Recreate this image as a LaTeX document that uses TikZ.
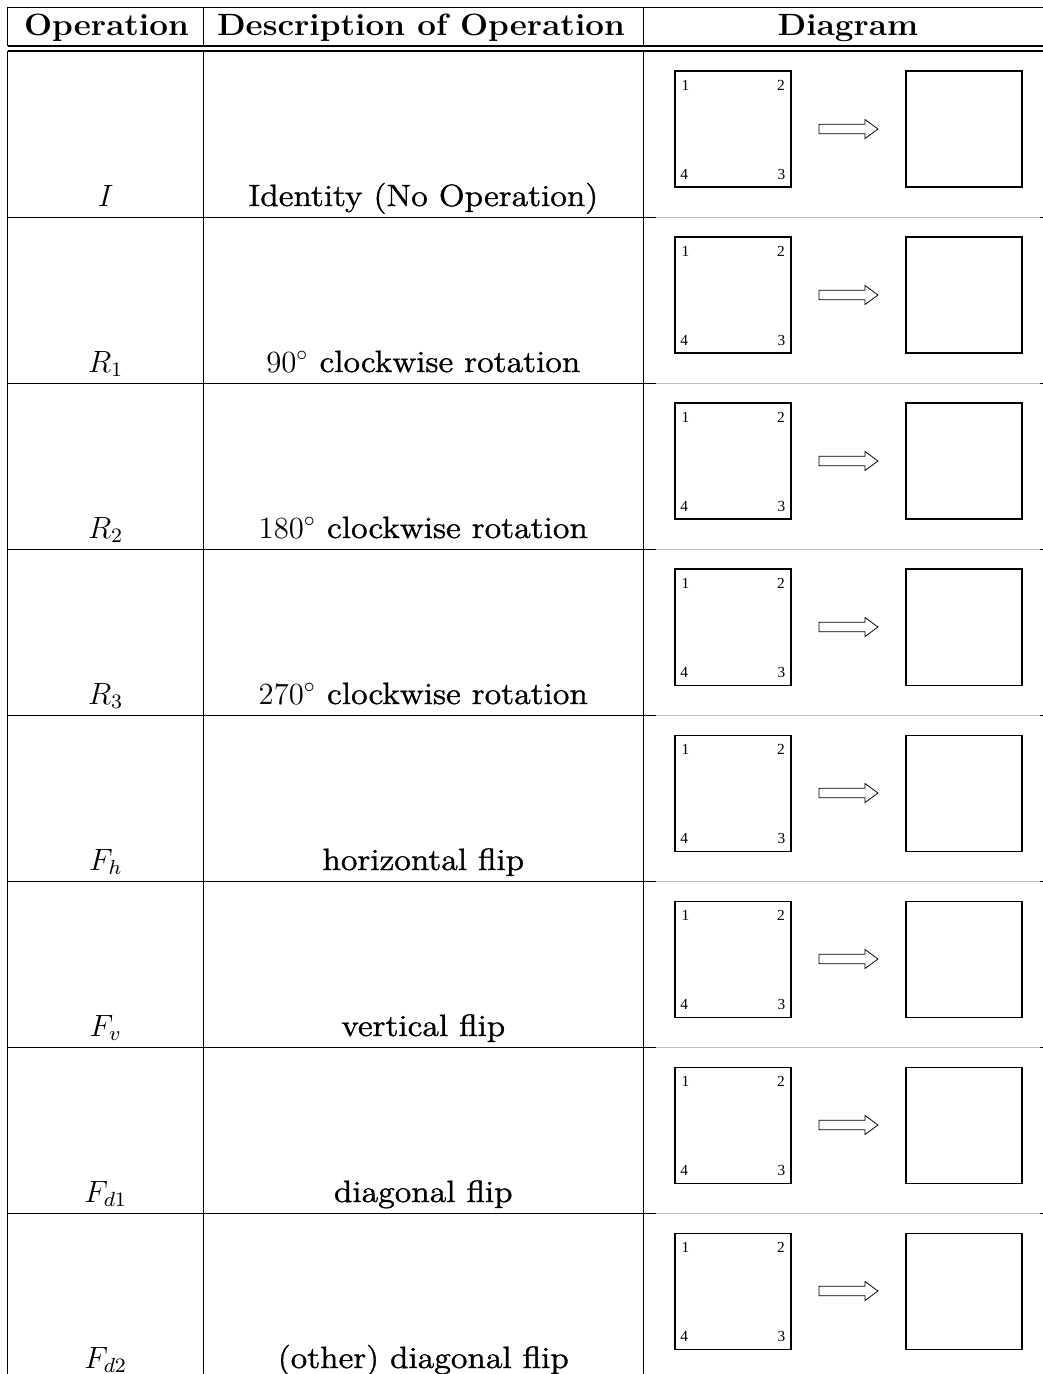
\documentclass[tikz,border=0pt]{standalone}
\usepackage{fontspec}
\newfontfamily\cornerfont{Liberation Serif}
\newfontfamily\bodyfont{Latin Modern Roman}[FakeStretch=1.1,FakeBold=1.2]
\newfontfamily\headfont{Latin Modern Roman}[FakeStretch=1.08]
\begin{document}
\begin{tikzpicture}[x=0.39pt,y=-0.39pt]
\tikzstyle{every node}+=[inner sep=0pt]
\tikzstyle{head}=[anchor=base,font=\headfont\bfseries\fontsize{12}{14}\selectfont]
\tikzstyle{cell}=[anchor=base,font=\bodyfont\fontsize{12}{14}\selectfont]
\tikzstyle{box}=[draw=black,minimum size=45.24pt]
\tikzstyle{corner}=[font=\cornerfont\fontsize{6}{7}\selectfont]
\tikzstyle{arrowbody}=[draw=black,line width=0.3pt]
\useasboundingbox (0,0) rectangle (1043,1374);
% table rules
\draw [black] (7.5,7.3) -- (1043,7.3);
\draw [black] (7.5,46) -- (1043,46);
\draw [black] (7.5,51) -- (1043,51);
\foreach \x in {7.5,203.3,643.3} {
  \draw [black] (\x,7.3) -- (\x,46);
  \draw [black] (\x,51) -- (\x,1374);
}
\foreach \k in {0,...,6} {
  \draw [black] (7.5,217.7+166*\k) -- (656,217.7+166*\k);
  \draw [black!25] (656,217.7+166*\k) -- (1040,217.7+166*\k);
  \draw [black] (1040,217.7+166*\k) -- (1043,217.7+166*\k);
}
% header
\node [head] (hop) at (106.5,35) {Operation};
\node [head] (hdesc) at (421,35) {Description of Operation};
\node [head] (hdiag) at (848,35) {Diagram};
% rows
\foreach \op/\desc [count=\k from 0] in {I/Identity (No Operation),
    R_1/$90^\circ$ clockwise rotation, R_2/$180^\circ$ clockwise rotation,
    R_3/$270^\circ$ clockwise rotation, F_h/horizontal flip,
    F_v/vertical flip, F_{d1}/diagonal flip, F_{d2}/(other) diagonal flip} {
  \node [cell] (op\k) at (105.7,206+166*\k) {$\op$};
  \node [cell] (desc\k) at (423.3,206+166*\k) {\desc};
  \node [box] (src\k) at (733,129+166*\k) {};
  \node [box] (dst\k) at (964,129+166*\k) {};
  \node [corner] (one\k) at ([shift={(11,15)}]src\k.north west) {1};
  \node [corner] (two\k) at ([shift={(-10.5,15)}]src\k.north east) {2};
  \node [corner] (three\k) at ([shift={(-10,-13)}]src\k.south east) {3};
  \node [corner] (four\k) at ([shift={(9.7,-13)}]src\k.south west) {4};
  \draw [arrowbody] ([shift={(86,-4.8)}]src\k.center) -- ++(46,0) -- ++(0,-4.7)
    -- ++(13,9.5) -- ++(-13,9.5) -- ++(0,-4.7) -- ++(-46,0) -- cycle;
}
\end{tikzpicture}
\end{document}
